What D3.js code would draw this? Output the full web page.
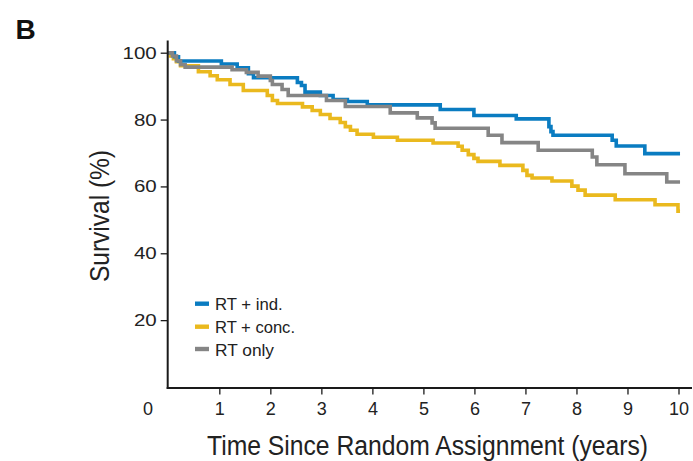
<!DOCTYPE html>
<html>
<head>
<meta charset="utf-8">
<script src="https://cdn.jsdelivr.net/npm/d3@7"></script>
<style>
  html, body { margin: 0; padding: 0; background: #fff; }
  svg { display: block; }
  text { font-family: "Liberation Sans", Arial, Helvetica, sans-serif; fill: #222; }
</style>
</head>
<body>
<svg id="chart" width="693" height="461"></svg>
<script>
// ---- Data ----
const seriesNames = ["RT + ind.", "RT + conc.", "RT only"];
const seriesColors = ["#0a7cc1", "#eab91e", "#858585"];

const blueTime = [0, 0.12, 0.20, 1.04, 1.35, 1.57, 1.67, 2.53, 2.61, 2.68, 2.98, 3.23, 3.51, 3.90, 5.33, 5.99, 6.82, 7.46, 7.50, 7.54, 8.70, 8.78, 9.34, 10.03];
const blueSurv = [100, 98.8, 97.5, 96.6, 95.5, 93.7, 92.5, 91.1, 90.2, 88.2, 87.2, 86.0, 85.4, 84.4, 83.0, 81.2, 80.2, 77.9, 76.4, 75.3, 73.8, 72.1, 69.8, 69.8];

const yellowTime = [0, 0.04, 0.10, 0.16, 0.24, 0.59, 0.82, 0.96, 1.21, 1.47, 1.94, 2.04, 2.14, 2.63, 2.82, 2.98, 3.17, 3.37, 3.47, 3.57, 3.70, 4.02, 4.49, 5.19, 5.68, 5.76, 5.88, 5.99, 6.07, 6.50, 6.95, 7.03, 7.13, 7.52, 7.91, 8.03, 8.17, 8.76, 9.54, 9.99, 10.03];
const yellowSurv = [100, 99.0, 98.2, 97.3, 96.1, 94.3, 93.1, 91.9, 90.5, 88.7, 87.2, 85.7, 84.8, 83.8, 82.7, 81.5, 80.3, 79.1, 77.9, 76.8, 75.6, 74.7, 73.8, 73.0, 72.0, 70.8, 69.5, 68.4, 67.5, 66.3, 64.8, 63.3, 62.5, 61.6, 60.1, 58.9, 57.4, 56.0, 54.5, 52.6, 52.6];

const grayTime = [0, 0.08, 0.16, 0.24, 0.33, 1.25, 1.53, 1.76, 2.00, 2.04, 2.23, 2.35, 3.10, 3.47, 4.35, 4.88, 5.17, 5.23, 6.27, 6.54, 7.25, 8.31, 8.40, 8.95, 9.77, 10.03];
const graySurv = [100, 99.0, 97.6, 96.4, 95.7, 94.9, 94.1, 93.0, 91.7, 90.5, 89.0, 87.2, 85.7, 83.9, 82.0, 80.5, 79.0, 77.4, 75.3, 73.1, 70.8, 68.8, 66.5, 63.8, 61.3, 61.3];

const xTicks = [1, 2, 3, 4, 5, 6, 7, 8, 9, 10];
const yTicks = [20, 40, 60, 80, 100];
const panelLabel = "B";
const xTitle = "Time Since Random Assignment (years)";
const yTitle = "Survival (%)";

// ---- Chart ----
const svg = d3.select("#chart");
const x = d3.scaleLinear().domain([0, 10]).range([168.3, 678.5]);
const y = d3.scaleLinear().domain([0, 100]).range([387, 52.7]);

// panel letter
svg.append("text").attr("x", 15.5).attr("y", 39)
  .style("font-size", "28px").style("font-weight", "bold").style("fill", "#111")
  .text(panelLabel);

// curves
const line = d3.line().curve(d3.curveStepAfter).x(d => x(d[0])).y(d => y(d[1]));
const series = [
  { name: seriesNames[0], color: seriesColors[0], pts: d3.zip(blueTime, blueSurv) },
  { name: seriesNames[1], color: seriesColors[1], pts: d3.zip(yellowTime, yellowSurv) },
  { name: seriesNames[2], color: seriesColors[2], pts: d3.zip(grayTime, graySurv) }
];
const drawOrder = [series[1], series[0], series[2]];
svg.append("g").selectAll("path").data(drawOrder).join("path")
  .attr("d", d => line(d.pts))
  .attr("fill", "none")
  .attr("stroke", d => d.color)
  .attr("stroke-width", 3.6)
  .attr("stroke-linejoin", "miter");

// axes lines
svg.append("line").attr("x1", 167.7).attr("x2", 167.7).attr("y1", 40.5).attr("y2", 389)
  .attr("stroke", "#1a1a1a").attr("stroke-width", 2);
svg.append("line").attr("x1", 166.7).attr("x2", 692).attr("y1", 388).attr("y2", 388)
  .attr("stroke", "#1a1a1a").attr("stroke-width", 2);

// y axis ticks
const yAxis = d3.axisLeft(y).tickValues(yTicks).tickSize(7).tickPadding(4).tickFormat(d3.format("d"));
const gy = svg.append("g").attr("transform", "translate(167.7,0)").call(yAxis);
gy.select(".domain").remove();
gy.selectAll(".tick line").attr("stroke", "#1a1a1a").attr("stroke-width", 1.3);
gy.selectAll(".tick text")
  .attr("x", -11)
  .style("font-size", "17px").style("fill", "#222")
  .attr("textLength", d => String(d).length * 11.4)
  .attr("lengthAdjust", "spacingAndGlyphs");

// x axis ticks
const xAxis = d3.axisBottom(x).tickValues(xTicks).tickSize(6).tickPadding(7).tickFormat(d3.format("d"));
const gx = svg.append("g").attr("transform", "translate(0,388.5)").call(xAxis);
gx.select(".domain").remove();
gx.selectAll(".tick line").attr("stroke", "#1a1a1a").attr("stroke-width", 1.3);
gx.selectAll(".tick text")
  .attr("y", 26.5).attr("dy", null)
  .style("font-size", "18px").style("fill", "#222");
// origin label
svg.append("text").attr("x", 148).attr("y", 415).attr("text-anchor", "middle")
  .style("font-size", "18px").text("0");

// axis titles
svg.append("text").attr("x", 427.5).attr("y", 454.5).attr("text-anchor", "middle")
  .style("font-size", "27px").style("fill", "#222")
  .attr("textLength", 441).attr("lengthAdjust", "spacingAndGlyphs")
  .text(xTitle);
svg.append("text").attr("transform", "translate(108.5,216) rotate(-90)").attr("text-anchor", "middle")
  .style("font-size", "27px").style("fill", "#222")
  .attr("textLength", 132).attr("lengthAdjust", "spacingAndGlyphs")
  .text(yTitle);

// legend
const legendY = [303.7, 326.7, 349];
const legendW = [67.7, 80, 59];
const lg = svg.append("g").selectAll("g").data(series).join("g")
  .attr("transform", (d, i) => `translate(195,${legendY[i]})`);
lg.append("rect").attr("x", 0).attr("y", -2.2).attr("width", 14).attr("height", 4.4)
  .attr("fill", d => d.color);
lg.append("text").attr("x", 20).attr("y", 6.5)
  .style("font-size", "16px").style("fill", "#222")
  .attr("textLength", (d, i) => legendW[i]).attr("lengthAdjust", "spacingAndGlyphs")
  .text(d => d.name);
</script>
</body>
</html>
